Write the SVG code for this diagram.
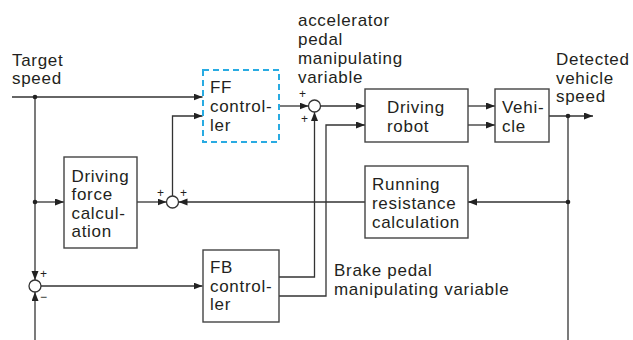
<svg xmlns="http://www.w3.org/2000/svg" width="633" height="340" viewBox="0 0 633 340">
<style>
text{font-family:"Liberation Sans",Arial,sans-serif;font-size:17px;letter-spacing:0.7px;fill:#231f20}
.s{font-size:12px;letter-spacing:0}
.box{fill:#fff;stroke:#444;stroke-width:1.4}
.ff{fill:#fff;stroke:#29abe2;stroke-width:2;stroke-dasharray:6,4}
.ln{fill:none;stroke:#333;stroke-width:1.3}
.ar{marker-end:url(#a)}
.sum{fill:#fff;stroke:#333;stroke-width:1.3}
</style>
<defs>
<marker id="a" markerUnits="userSpaceOnUse" markerWidth="10" markerHeight="8" refX="9" refY="3.5" orient="auto"><path d="M0,0 L9,3.5 L0,7 z" fill="#222"/></marker>
</defs>
<g id="connectors">
<path class="ln ar" d="M12,97 H202.5"/>
<path class="ln ar" d="M35,97 V280"/>
<path class="ln ar" d="M35,202 H64"/>
<path class="ln ar" d="M137,202 H166.5"/>
<path class="ln ar" d="M172.5,196 V116 H202.5"/>
<path class="ln ar" d="M365,202 H178.5"/>
<path class="ln ar" d="M568,202 H468"/>
<path class="ln ar" d="M279,106 H308.5"/>
<path class="ln ar" d="M320.5,106 H365"/>
<path class="ln ar" d="M279,277 H314.5 V112"/>
<path class="ln ar" d="M279,296 H326 V125 H365"/>
<path class="ln ar" d="M468,106 H495"/>
<path class="ln ar" d="M468,125 H495"/>
<path class="ln ar" d="M549,116 H593"/>
<path class="ln" d="M568,116 V340"/>
<path class="ln ar" d="M35,340 V292"/>
<path class="ln ar" d="M41,286 H202.5"/>
<circle cx="35" cy="97" r="2.3" fill="#222"/>
<circle cx="35" cy="202" r="2.3" fill="#222"/>
<circle cx="568" cy="116" r="2.3" fill="#222"/>
<circle cx="568" cy="202" r="2.3" fill="#222"/>
</g>
<g id="sum1"><circle class="sum" cx="314.5" cy="106" r="6"/><text class="s" x="299" y="98">+</text><text class="s" x="301" y="123">+</text></g>
<g id="sum2"><circle class="sum" cx="172.5" cy="202" r="6"/><text class="s" x="157" y="197">+</text><text class="s" x="180" y="197">+</text></g>
<g id="sum3"><circle class="sum" cx="35" cy="286" r="6"/><text class="s" x="40" y="278">+</text><text class="s" x="40" y="301">−</text></g>
<g id="target"><text x="12" y="66">Target</text><text x="12" y="83.5">speed</text></g>
<g id="accel"><text x="298" y="26">accelerator</text><text x="298" y="45">pedal</text><text x="298" y="64">manipulating</text><text x="298" y="83">variable</text></g>
<g id="detected"><text x="556" y="65">Detected</text><text x="556" y="83.5">vehicle</text><text x="556" y="101.5">speed</text></g>
<g id="brake"><text x="334" y="276">Brake pedal</text><text x="334" y="294.5">manipulating variable</text></g>
<g id="ff"><rect class="ff" x="203" y="70" width="76" height="72"/><text x="210" y="93">FF</text><text x="210" y="112">control-</text><text x="210" y="131">ler</text></g>
<g id="robot"><rect class="box" x="365" y="89" width="103" height="53"/><text x="387" y="113">Driving</text><text x="387" y="131.5">robot</text></g>
<g id="vehicle"><rect class="box" x="495" y="89" width="54" height="53"/><text x="502" y="113">Vehi-</text><text x="502" y="131.5">cle</text></g>
<g id="dfc"><rect class="box" x="64" y="157" width="73" height="91"/><text x="71.5" y="182">Driving</text><text x="71.5" y="200">force</text><text x="71.5" y="218.5">calcul-</text><text x="71.5" y="236.5">ation</text></g>
<g id="rrc"><rect class="box" x="365" y="166" width="103" height="72"/><text x="372" y="190">Running</text><text x="372" y="209">resistance</text><text x="372" y="227.5">calculation</text></g>
<g id="fb"><rect class="box" x="203" y="250" width="76" height="72"/><text x="210" y="273">FB</text><text x="210" y="291.5">control-</text><text x="210" y="310">ler</text></g>
</svg>
